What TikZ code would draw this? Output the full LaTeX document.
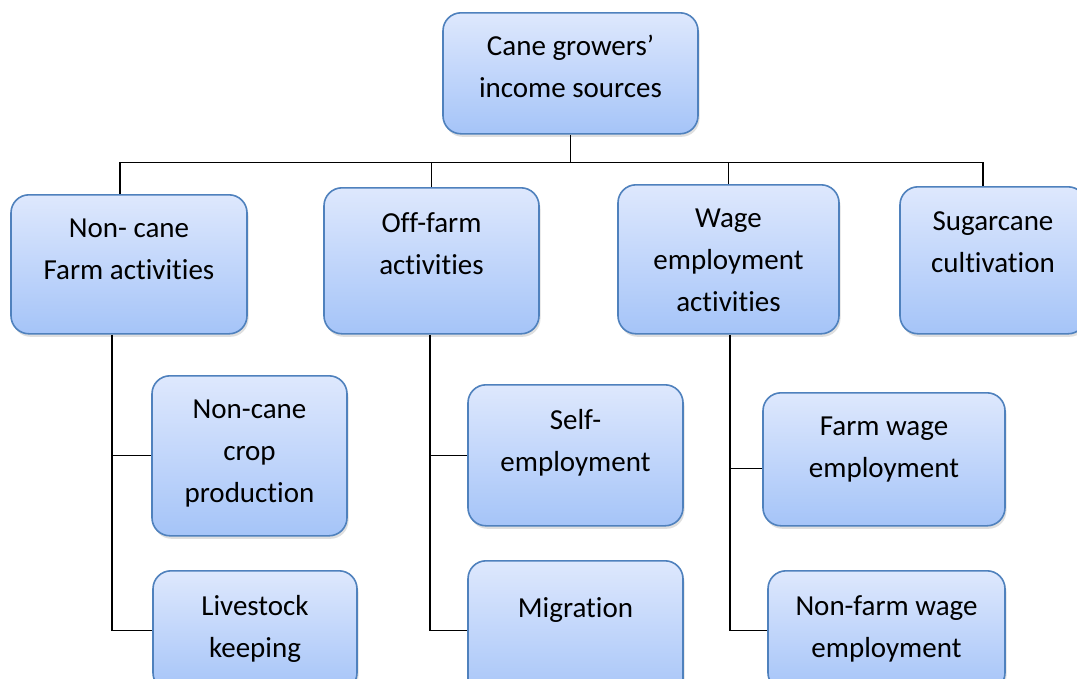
\documentclass[tikz,border=0pt]{standalone}
\usepackage{fontspec}
\setmainfont{Carlito}[Ligatures={TeX,NoCommon}]
\usetikzlibrary{shadows}
\definecolor{boxtop}{HTML}{DEE8FD}
\definecolor{boxbot}{HTML}{A5C4F8}
\definecolor{boxline}{HTML}{4F81BD}

\begin{document}
\begin{tikzpicture}[x=1pt, y=-1pt,
    box/.style 2 args = {draw=boxline, line width=1.6pt, rounded corners=18pt,
        top color=boxtop, bottom color=boxbot, anchor=north,
        minimum width=#1, minimum height=#2,
        drop shadow={shadow xshift=1.5pt, shadow yshift=-3pt, opacity=0.25}},
    txt/.style = {anchor=north, inner sep=0pt, yshift=-25pt, align=center,
        font=\fontsize{29}{42}\selectfont},
    link/.style = {draw=black, line width=1.3pt}]
                \path[use as bounding box, fill=white] (0,0) rectangle (1077,678);

                % top and first level
                \node[box={255pt}{121pt}, label={[txt, yshift=2pt]north:{Cane growers’\\income sources}}] (root) at (570.5,12)  {};
                \node[box={236pt}{139pt}, label={[txt]north:{Non- cane\\Farm activities}}]         (nc)   at (129,194)   {};
                \node[box={215pt}{146pt}, label={[txt]north:{Off-farm\\activities}}]               (of)   at (431.5,187) {};
                \node[box={221pt}{149pt}, label={[txt]north:{Wage\\employment\\activities}}]       (wg)   at (728.5,184) {};
                \node[box={186pt}{147pt}, label={[txt]north:{Sugarcane\\cultivation}}]             (sc)   at (993,186)   {};

                % second level
                \node[box={195pt}{160pt}, label={[txt]north:{Non-cane\\crop\\production}}]         (ncc)  at (249.5,375) {};
                \node[box={204pt}{120pt}, label={[txt]north:{Livestock\\keeping}}]                 (lk)   at (255,570)   {};
                \node[box={215pt}{141pt}, label={[txt]north:{Self-\\employment}}]                  (se)   at (575.5,384) {};
                \node[box={215pt}{140pt}, label={[txt, yshift=-12pt]north:{Migration}}]            (mg)   at (575.5,560) {};
                \node[box={242pt}{133pt}, label={[txt]north:{Farm wage\\employment}}]              (fw)   at (884,392)   {};
                \node[box={237pt}{120pt}, label={[txt]north:{Non-farm wage\\employment}}]          (nf)   at (886.5,570) {};

                % connectors
                \draw[link] (root.south) -- ++(0,28) coordinate (bus);
                \draw[link] ([xshift=-9pt]nc.north) |- (bus) -| ([xshift=-10pt]sc.north);
                \draw[link] (of.north) -- (of.north |- bus);
                \draw[link] (wg.north) -- (wg.north |- bus);

                \coordinate (t1) at ([xshift=-17pt]nc.south);
                \coordinate (t2) at ([xshift=-1.5pt]of.south);
                \coordinate (t3) at ([xshift=1.5pt]wg.south);
                \draw[link] (t1) |- (lk.west);
                \draw[link] (ncc.west) -- (ncc.west -| t1);
                \draw[link] (t2) |- (mg.west);
                \draw[link] (se.west) -- (se.west -| t2);
                \draw[link] (t3) |- (nf.west);
                \draw[link] ([yshift=-9.5pt]fw.west) -- ([yshift=-9.5pt]fw.west -| t3);
\end{tikzpicture}
\end{document}
